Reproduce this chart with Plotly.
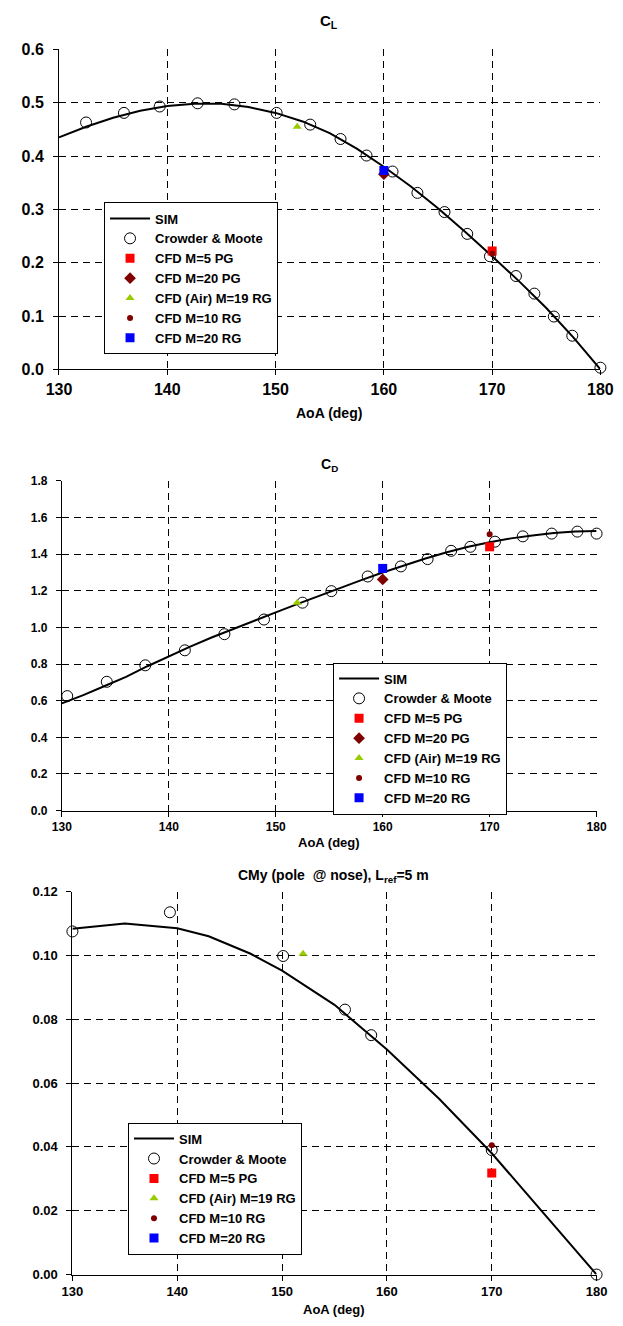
import plotly.graph_objects as go

W, H = 623, 1326
FONT = "Liberation Sans, Arial, sans-serif"

# ---------------- Lift coefficient C_L ----------------
cl_sim_aoa = [130, 132.5, 135, 137.5, 140, 142.5, 145, 147.5, 150, 152.5, 155,
              157.5, 160, 162.5, 165, 167.5, 170, 172.5, 175, 177.5, 180]
cl_sim = [0.435, 0.455, 0.472, 0.485, 0.494, 0.498, 0.498, 0.492, 0.481, 0.465, 0.443,
          0.414, 0.380, 0.343, 0.302, 0.258, 0.212, 0.165, 0.115, 0.060, 0.0]
cl_exp_aoa = [132.5, 136.0, 139.3, 142.8, 146.2, 150.1, 153.2, 156.0, 158.4, 160.8,
              163.1, 165.6, 167.7, 169.8, 172.2, 173.9, 175.7, 177.4, 180.0]
cl_exp = [0.463, 0.481, 0.493, 0.499, 0.497, 0.481, 0.459, 0.432, 0.401, 0.371,
          0.331, 0.295, 0.254, 0.212, 0.175, 0.142, 0.099, 0.063, 0.003]
cl_m5pg_aoa, cl_m5pg = [170], [0.222]
cl_m20pg_aoa, cl_m20pg = [160], [0.366]
cl_air_aoa, cl_air = [152], [0.455]
cl_m10rg_aoa, cl_m10rg = [170], [0.217]
cl_m20rg_aoa, cl_m20rg = [160], [0.373]

# ---------------- Drag coefficient C_D ----------------
cd_sim_aoa = [130, 132, 134, 136, 138, 140, 142, 144, 146, 148, 150, 152, 154,
              156, 158, 160, 162, 164, 166, 168, 170, 172, 174, 176, 178, 180]
cd_sim = [0.585, 0.630, 0.680, 0.730, 0.788, 0.843, 0.895, 0.945, 0.992, 1.037,
          1.082, 1.127, 1.172, 1.215, 1.258, 1.300, 1.340, 1.376, 1.410, 1.440,
          1.465, 1.486, 1.502, 1.515, 1.523, 1.526]
cd_exp_aoa = [130.5, 134.2, 137.8, 141.5, 145.2, 148.9, 152.5, 155.2, 158.6, 161.7,
              164.2, 166.4, 168.2, 170.5, 173.1, 175.8, 178.2, 180.0]
cd_exp = [0.625, 0.703, 0.793, 0.875, 0.963, 1.043, 1.135, 1.198, 1.278, 1.333,
          1.373, 1.418, 1.440, 1.468, 1.497, 1.512, 1.523, 1.512]
cd_m5pg_aoa, cd_m5pg = [170], [1.440]
cd_m20pg_aoa, cd_m20pg = [160], [1.262]
cd_air_aoa, cd_air = [152], [1.135]
cd_m10rg_aoa, cd_m10rg = [170], [1.508]
cd_m20rg_aoa, cd_m20rg = [160], [1.322]

# ---------------- Pitching moment CMy ----------------
cm_sim_aoa = [130, 135, 140, 143, 147, 150, 155, 160, 165, 170, 175, 180]
cm_sim = [0.1083, 0.1100, 0.1085, 0.1060, 0.1005, 0.0952, 0.0845, 0.0705,
          0.0550, 0.0380, 0.0190, 0.0]
cm_exp_aoa = [130.0, 139.3, 150.1, 156.0, 158.5, 170.0, 180.0]
cm_exp = [0.1075, 0.1135, 0.0998, 0.0830, 0.0750, 0.0390, 0.0]
cm_m5pg_aoa, cm_m5pg = [170], [0.0318]
cm_air_aoa, cm_air = [152], [0.1005]
cm_m10rg_aoa, cm_m10rg = [170], [0.0405]
# no M=20 RG moment value available: the series only appears in the legend
cm_m20rg_aoa, cm_m20rg = [None], [None]

RED = "#FF0000"
MAROON = "#800000"
GREEN = "#99CC00"
BLUE = "#0000FF"


def fx(px):
    return px / W


def fy(py):
    return 1 - py / H


fig = go.Figure()


def add_panel(n, sim, exp, cfd):
    xa = "x" if n == 1 else f"x{n}"
    ya = "y" if n == 1 else f"y{n}"
    lg = "legend" if n == 1 else f"legend{n}"
    common = dict(xaxis=xa, yaxis=ya, legend=lg, cliponaxis=False)
    fig.add_trace(go.Scatter(x=sim[0], y=sim[1], mode="lines", name="<b>SIM</b>",
                             line=dict(color="black", width=2), **common))
    fig.add_trace(go.Scatter(x=exp[0], y=exp[1], mode="markers",
                             name="<b>Crowder & Moote</b>",
                             marker=dict(symbol="circle-open", size=11, color="black",
                                         line=dict(width=1, color="black")), **common))
    for name, xs, ys, sym, size, col in cfd:
        fig.add_trace(go.Scatter(x=xs, y=ys, mode="markers", name=f"<b>{name}</b>",
                                 marker=dict(symbol=sym, size=size, color=col,
                                             line=dict(width=0)), **common))


add_panel(1, (cl_sim_aoa, cl_sim), (cl_exp_aoa, cl_exp), [
    ("CFD M=5 PG", cl_m5pg_aoa, cl_m5pg, "square", 9, RED),
    ("CFD M=20 PG", cl_m20pg_aoa, cl_m20pg, "diamond", 9, MAROON),
    ("CFD (Air) M=19 RG", cl_air_aoa, cl_air, "triangle-up", 8, GREEN),
    ("CFD M=10 RG", cl_m10rg_aoa, cl_m10rg, "circle", 6, MAROON),
    ("CFD M=20 RG", cl_m20rg_aoa, cl_m20rg, "square", 9, BLUE),
])
add_panel(2, (cd_sim_aoa, cd_sim), (cd_exp_aoa, cd_exp), [
    ("CFD M=5 PG", cd_m5pg_aoa, cd_m5pg, "square", 9, RED),
    ("CFD M=20 PG", cd_m20pg_aoa, cd_m20pg, "diamond", 9, MAROON),
    ("CFD (Air) M=19 RG", cd_air_aoa, cd_air, "triangle-up", 8, GREEN),
    ("CFD M=10 RG", cd_m10rg_aoa, cd_m10rg, "circle", 6, MAROON),
    ("CFD M=20 RG", cd_m20rg_aoa, cd_m20rg, "square", 9, BLUE),
])
add_panel(3, (cm_sim_aoa, cm_sim), (cm_exp_aoa, cm_exp), [
    ("CFD M=5 PG", cm_m5pg_aoa, cm_m5pg, "square", 9, RED),
    ("CFD (Air) M=19 RG", cm_air_aoa, cm_air, "triangle-up", 8, GREEN),
    ("CFD M=10 RG", cm_m10rg_aoa, cm_m10rg, "circle", 6, MAROON),
    ("CFD M=20 RG", cm_m20rg_aoa, cm_m20rg, "square", 9, BLUE),
])


def x_axis(left, right, anchor, fsize):
    return dict(domain=[fx(left), fx(right)], range=[130, 180], tick0=130, dtick=10,
                anchor=anchor, showline=True, linecolor="black", linewidth=1,
                showgrid=True, gridcolor="black", gridwidth=1, griddash="7px,5px",
                ticks="outside", ticklen=5, tickcolor="black", zeroline=False,
                tickfont=dict(family=FONT, size=fsize, color="black", weight="bold"))


def y_axis(bottom, top, anchor, rng, dtick, fmt, fsize):
    return dict(domain=[fy(bottom), fy(top)], range=rng, dtick=dtick, tick0=0,
                tickformat=fmt, anchor=anchor, showline=True, linecolor="black",
                linewidth=1, showgrid=True, gridcolor="black", gridwidth=1,
                griddash="7px,5px", ticks="outside", ticklen=5, tickcolor="black",
                zeroline=False, ticklabelstandoff=6,
                tickfont=dict(family=FONT, size=fsize, color="black", weight="bold"))


def legend_box(left, center_y):
    return dict(x=fx(left), y=fy(center_y), xanchor="left", yanchor="middle",
                xref="paper", yref="paper", bgcolor="white", bordercolor="black",
                borderwidth=1, itemwidth=40, tracegroupgap=0,
                font=dict(family=FONT, size=13, color="black"))


fig.update_layout(
    width=W, height=H, margin=dict(l=0, r=0, t=0, b=0),
    paper_bgcolor="white", plot_bgcolor="white", showlegend=True,
    xaxis=x_axis(48, 613, "y", 16),
    yaxis=y_axis(366, 42, "x", [0, 0.6], 0.1, ".1f", 16),
    xaxis2=x_axis(51, 609, "y2", 12),
    yaxis2=y_axis(813, 479, "x2", [0, 1.8], 0.2, ".1f", 12),
    xaxis3=x_axis(62, 609, "y3", 13),
    yaxis3=y_axis(1283, 895, "x3", [0, 0.12], 0.02, ".2f", 13),
    legend=legend_box(95, 274),
    legend2=legend_box(334, 740),
    legend3=legend_box(120, 1196),
)

titles = [
    ("<b>C<sub>L</sub></b>", 330, 14, 15),
    ("<b>C<sub>D</sub></b>", 330, 463, 14),
    ("<b>CMy (pole  @ nose), L<sub>ref</sub>=5 m</b>", 334, 879, 14),
    ("<b>AoA (deg)</b>", 330, 410, 14),
    ("<b>AoA (deg)</b>", 330, 845, 13),
    ("<b>AoA (deg)</b>", 335, 1318, 13),
]
for text, px, py, size in titles:
    fig.add_annotation(text=text, x=fx(px), y=fy(py), xref="paper", yref="paper",
                       xanchor="center", yanchor="middle", showarrow=False,
                       font=dict(family=FONT, size=size, color="black"))

fig.write_html("out.html")
